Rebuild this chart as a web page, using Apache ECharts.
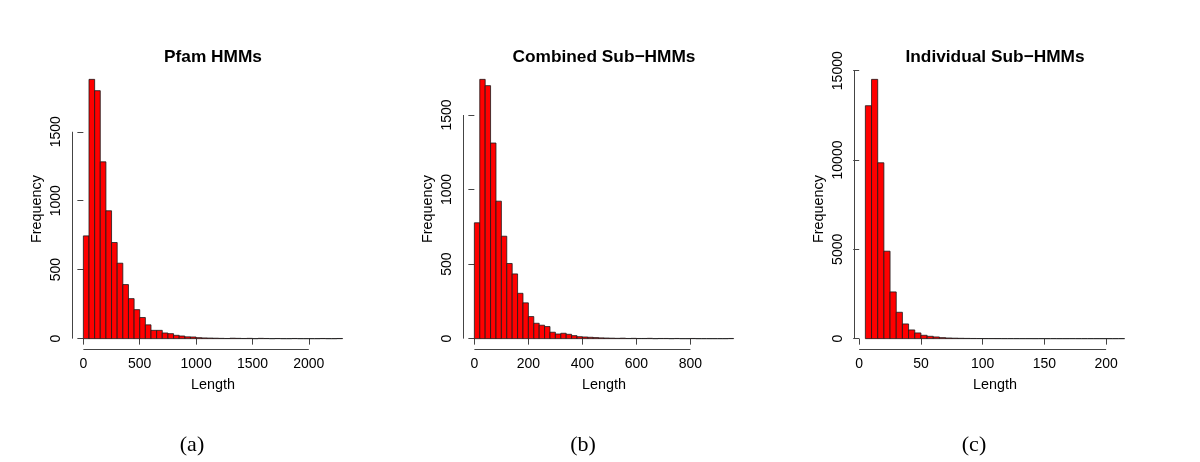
<!DOCTYPE html>
<html><head><meta charset="utf-8">
<script src="https://cdn.jsdelivr.net/npm/echarts@6/dist/echarts.min.js"></script>
<style>html,body{margin:0;padding:0;background:#fff}#c{width:1200px;height:462px}</style>
</head><body><div id="c"></div>
<script>
// ---- data ----
const titles = ['Pfam HMMs', 'Combined Sub\u2212HMMs', 'Individual Sub\u2212HMMs'];
const captions = ['(a)', '(b)', '(c)'];
const xName = 'Length';
const yName = 'Frequency';

const pfamBreaks = [0,50,100,150,200,250,300,350,400,450,500,550,600,650,700,750,800,850,900,950,1000,1050,1100,1150,1200,1250,1300,1350,1400,1450,1500,1550,1600,1650,1700,1750,1800,1850,1900,1950,2000,2050,2100,2150,2200,2250,2300];
const pfamCounts = [745,1880,1798,1282,927,697,547,392,290,210,153,100,60,60,41,36,24,19,13,12,7,5,4,3,2,1,3,2,1,2,0,2,1,0,1,0,0,1,0,0,0,0,1,0,0,1];
const pfamXTicks = [0,500,1000,1500,2000];
const pfamYTicks = [0,500,1000,1500];

const combinedBreaks = [0,20,40,60,80,100,120,140,160,180,200,220,240,260,280,300,320,340,360,380,400,420,440,460,480,500,520,540,560,580,600,620,640,660,680,700,720,740,760,780,800,820,840,860,880,900,920,940,960];
const combinedCounts = [777,1739,1697,1312,922,687,504,434,304,240,148,103,90,81,43,31,36,29,20,13,11,9,7,5,4,3,2,3,1,2,1,1,2,0,1,1,0,1,0,0,1,0,0,0,0,0,0,1];
const combinedXTicks = [0,200,400,600,800];
const combinedYTicks = [0,500,1000,1500];

const individualBreaks = [5,10,15,20,25,30,35,40,45,50,55,60,65,70,75,80,85,90,95,100,105,110,115,120,125,130,135,140,145,150,155,160,165,170,175,180,185,190,195,200,205,210,215];
const individualCounts = [13040,14515,9845,4895,2615,1476,822,486,318,187,130,93,56,37,25,18,12,9,7,5,4,3,2,2,1,1,1,0,1,0,1,0,0,1,0,0,0,0,0,0,0,1];
const individualXTicks = [0,50,100,150,200];
const individualYTicks = [0,5000,10000,15000];

// ---- layout ----
const panels = [
  {breaks: pfamBreaks, counts: pfamCounts, xt: pfamXTicks, yt: pfamYTicks},
  {breaks: combinedBreaks, counts: combinedCounts, xt: combinedXTicks, yt: combinedYTicks},
  {breaks: individualBreaks, counts: individualCounts, xt: individualXTicks, yt: individualYTicks}
];
const gridLefts = [73, 464, 855];
const gridTop = 69, gridW = 280, gridH = 280;
const captionX = [192, 583, 974];
const FONT = '"Liberation Sans", Arial, Helvetica, sans-serif';
const AXC = '#444';
const plain = v => String(v);

const option = {
  animation: false,
  backgroundColor: '#fff',
  grid: [], xAxis: [], yAxis: [], series: [], graphic: []
};

panels.forEach((p, i) => {
  const b0 = p.breaks[0], bN = p.breaks[p.breaks.length - 1];
  const xmin = b0 - 0.04 * (bN - b0), xmax = bN + 0.04 * (bN - b0);
  const ymaxData = Math.max.apply(null, p.counts);
  const ymin = -0.04 * ymaxData, ymax = ymaxData * 1.04;
  option.grid.push({left: gridLefts[i], top: gridTop, width: gridW, height: gridH});
  option.xAxis.push({
    type: 'value', gridIndex: i, min: xmin, max: xmax,
    axisLine: {show: false}, splitLine: {show: false},
    axisTick: {show: true, customValues: p.xt, length: 6, lineStyle: {color: AXC, width: 1}},
    axisLabel: {customValues: p.xt, formatter: plain, margin: 8, color: '#000', fontSize: 14, fontFamily: FONT},
    name: xName, nameLocation: 'middle', nameGap: 29,
    nameTextStyle: {color: '#000', fontSize: 14.4, fontFamily: FONT}
  });
  option.yAxis.push({
    type: 'value', gridIndex: i, min: ymin, max: ymax,
    axisLine: {show: false}, splitLine: {show: false},
    axisTick: {show: true, customValues: p.yt, length: 6, lineStyle: {color: AXC, width: 1}},
    axisLabel: {customValues: p.yt, formatter: plain, rotate: 90, margin: 10, color: '#000', fontSize: 14, fontFamily: FONT},
    name: yName, nameLocation: 'middle', nameGap: 29,
    nameTextStyle: {color: '#000', fontSize: 14.4, fontFamily: FONT}
  });
  // histogram bars
  option.series.push({
    type: 'custom', xAxisIndex: i, yAxisIndex: i, silent: true,
    data: p.counts.map((c, k) => [p.breaks[k], p.breaks[k + 1], c]),
    encode: {x: [0, 1], y: 2},
    renderItem: function (params, api) {
      const p0 = api.coord([api.value(0), 0]);
      const p1 = api.coord([api.value(1), api.value(2)]);
      return {
        type: 'rect',
        shape: {x: p0[0], y: p1[1], width: p1[0] - p0[0], height: p0[1] - p1[1]},
        style: {fill: '#ff0000', stroke: '#1a1a1a', lineWidth: 0.8}
      };
    }
  });
  // R-style axis lines spanning first..last tick
  option.series.push({
    type: 'custom', xAxisIndex: i, yAxisIndex: i, silent: true, clip: false,
    data: [[p.xt[0], p.yt[0]]],
    renderItem: function (params, api) {
      const a = api.coord([p.xt[0], ymin]);
      const b = api.coord([p.xt[p.xt.length - 1], ymin]);
      const c = api.coord([xmin, p.yt[0]]);
      const d = api.coord([xmin, p.yt[p.yt.length - 1]]);
      const yy = Math.round(a[1]) + 0.5, xx = Math.round(c[0]) - 0.5;
      return {
        type: 'group',
        children: [
          {type: 'line', shape: {x1: a[0], y1: yy, x2: b[0], y2: yy}, style: {stroke: AXC, lineWidth: 1}},
          {type: 'line', shape: {x1: xx, y1: c[1], x2: xx, y2: d[1]}, style: {stroke: AXC, lineWidth: 1}}
        ]
      };
    }
  });
  option.graphic.push({
    type: 'text', x: gridLefts[i] + gridW / 2, y: 57,
    style: {text: titles[i], align: 'center', verticalAlign: 'middle', fill: '#000',
      fontSize: 17.3, fontWeight: 'bold', fontFamily: FONT}
  });
  option.graphic.push({
    type: 'text', x: captionX[i], y: 445,
    style: {text: captions[i], align: 'center', verticalAlign: 'middle', fill: '#000',
      fontSize: 22, fontFamily: '"Liberation Serif", "DejaVu Serif", serif'}
  });
});

const chart = echarts.init(document.getElementById('c'), null, {renderer: 'canvas'});
chart.setOption(option);
</script>
</body></html>
